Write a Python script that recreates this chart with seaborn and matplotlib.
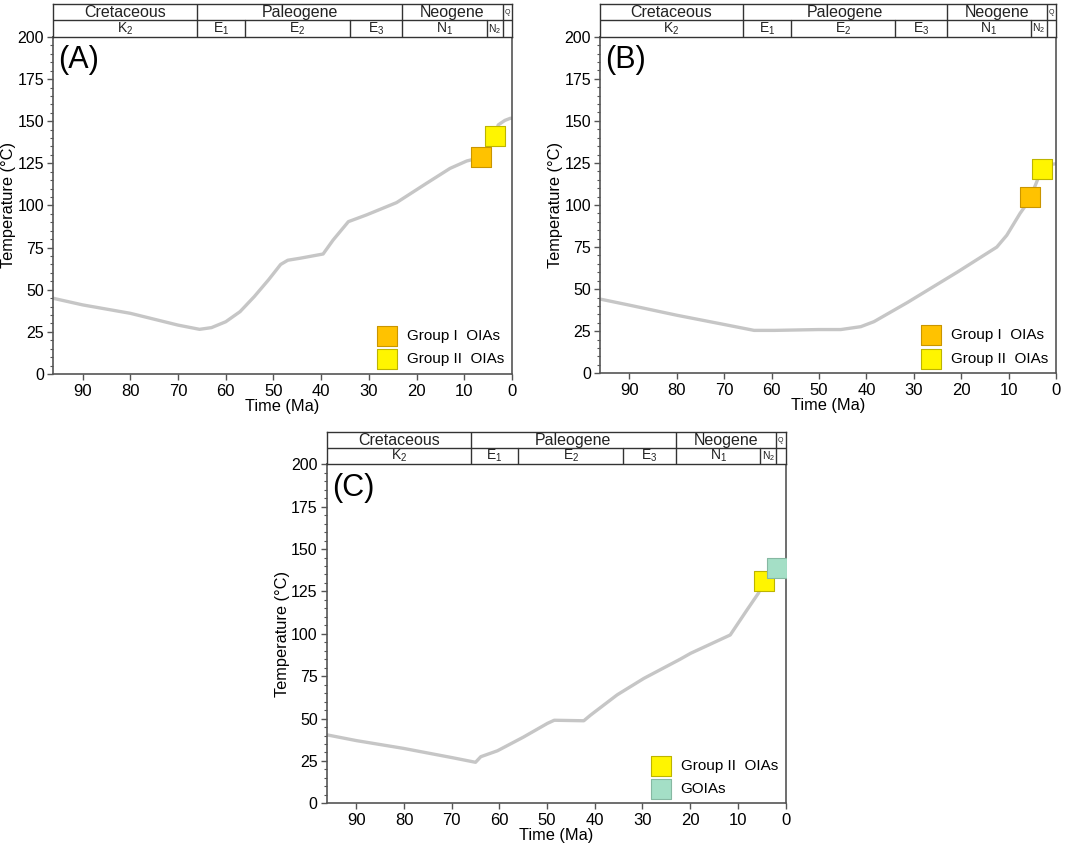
import matplotlib
matplotlib.use('Agg')
import matplotlib.pyplot as plt
import pandas as pd
import seaborn as sns

# Thermal history paths (time in Ma, temperature in deg C)
time_a = [96.3, 90, 80, 70, 65.5, 63, 60, 57, 54, 51, 48.5, 47, 44.4, 39.6, 37.5, 34.3,
          30.5, 24.2, 17.9, 13, 9.5, 6.5, 3.6, 2.9, 1.5, 0.4, 0]
temp_a = [45, 41, 36, 29, 26.5, 27.5, 31, 37, 46, 56, 65, 67.5, 68.7, 71.2, 79.5, 90.4,
          94.4, 101.7, 113.2, 122, 126.4, 128.5, 141, 147.8, 150.5, 151.7, 151.8]

time_b = [96, 90, 80, 70, 63.7, 59.4, 50, 45.4, 41.2, 38.4, 31.4, 20.9, 12.5, 10.4, 7.6,
          6.1, 5.4, 3.0, 1.5, 0]
temp_b = [44, 40.5, 34.5, 29, 25.5, 25.5, 26, 26, 27.7, 30.7, 42, 60, 75, 82, 95,
          101, 104.5, 121.4, 124, 124.5]

time_c = [96, 90, 80.1, 70, 65, 63.9, 60.4, 55, 49.9, 48.5, 42.3, 40.9, 35.3, 29.7, 22.1,
          19.9, 11.6, 8.1, 5.7, 4.5, 1.85, 1.0]
temp_c = [40.3, 37, 32.4, 27, 24.2, 27.5, 31, 39, 47.2, 49, 48.7, 52, 64, 73.7, 85,
          88.5, 99.3, 114, 123.9, 131.4, 138.9, 140]

# Sample groups plotted on each path
groups_a = ['Group I  OIAs', 'Group II  OIAs']
sample_time_a = [6.5, 3.6]
sample_temp_a = [128.5, 141.1]

groups_b = ['Group I  OIAs', 'Group II  OIAs']
sample_time_b = [5.4, 3.0]
sample_temp_b = [104.5, 121.4]

groups_c = ['Group II  OIAs', 'GOIAs']
sample_time_c = [4.5, 1.85]
sample_temp_c = [131.4, 138.9]

# Geological time scale
period_names = ['Cretaceous', 'Paleogene', 'Neogene', 'Q']
period_bounds = [96.2, 66, 23, 2, 0]
epoch_names = ['K$_2$', 'E$_1$', 'E$_2$', 'E$_3$', 'N$_1$', 'N$_2$', '']
epoch_bounds = [96.2, 66, 56, 34, 23, 5.3, 2, 0]

fills = {'Group I  OIAs': '#FFC200', 'Group II  OIAs': '#FFF500', 'GOIAs': '#A4DFC6'}
edges = {'Group I  OIAs': '#C99500', 'Group II  OIAs': '#BDB400', 'GOIAs': '#86B8A2'}

sns.set_style('ticks')
plt.rcParams['font.family'] = ['Liberation Sans', 'DejaVu Sans']
plt.rcParams['mathtext.default'] = 'regular'
plt.rcParams['text.color'] = 'black'
plt.rcParams['axes.labelcolor'] = 'black'
plt.rcParams['xtick.labelcolor'] = 'black'
plt.rcParams['ytick.labelcolor'] = 'black'

XLIM = (96.2, 0)
SPINE = '#555555'


def draw_header(fig, rect, hh):
    hax = fig.add_axes([rect[0], rect[1] + rect[3], rect[2], hh])
    hax.set_xlim(*XLIM)
    hax.set_ylim(0, 2)
    hax.set_xticks([])
    hax.set_yticks([])
    for sp in hax.spines.values():
        sp.set_color('#333333')
        sp.set_linewidth(1.0)
    hax.axhline(1, color='#333333', lw=1.0)
    for b in period_bounds[1:-1]:
        hax.plot([b, b], [1, 2], color='#333333', lw=1.0)
    for b in epoch_bounds[1:-1]:
        hax.plot([b, b], [0, 1], color='#333333', lw=1.0)
    for i, name in enumerate(period_names):
        mid = (period_bounds[i] + period_bounds[i + 1]) / 2
        fs = 5 if name == 'Q' else 11.5
        hax.text(mid, 1.47, name, ha='center', va='center', fontsize=fs, color='#222222')
    for i, name in enumerate(epoch_names):
        mid = (epoch_bounds[i] + epoch_bounds[i + 1]) / 2
        fs = 7.5 if name == 'N$_2$' else 10
        hax.text(mid, 0.5, name, ha='center', va='center', fontsize=fs, color='#222222')


def draw_panel(fig, rect, hh, times, temps, groups, s_time, s_temp, label):
    ax = fig.add_axes(rect)
    path = pd.DataFrame({'time': times, 'temp': temps})
    sns.lineplot(data=path, x='time', y='temp', ax=ax, color='#C6C6C6', lw=2.4,
                 sort=False, estimator=None)
    for g, t, T in zip(groups, s_time, s_temp):
        sns.scatterplot(x=[t], y=[T], ax=ax, marker='s', s=190, color=fills[g],
                        edgecolor=edges[g], linewidth=0.8, label=g, zorder=3)
    ax.set_xlim(*XLIM)
    ax.set_ylim(0, 200)
    ax.set_xticks(range(90, -1, -10))
    ax.set_yticks(range(0, 201, 25))
    ax.set_yticks(range(0, 201, 5), minor=True)
    ax.tick_params(axis='x', labelsize=12, length=4, width=1, color=SPINE, pad=3,
                   direction='out')
    ax.tick_params(axis='y', labelsize=11.5, length=4, width=1, color=SPINE, pad=2.5,
                   direction='out')
    ax.tick_params(axis='y', which='minor', length=2, width=0.8, color=SPINE)
    for sp in ax.spines.values():
        sp.set_color(SPINE)
        sp.set_linewidth(1.2)
    ax.set_xlabel('Time (Ma)', fontsize=11.8, labelpad=0)
    ax.set_ylabel('Temperature (°C)', fontsize=11.8, labelpad=1)
    ax.text(0.012, 0.975, label, transform=ax.transAxes, fontsize=22, ha='left', va='top')
    ax.legend(loc='lower right', frameon=False, fontsize=11, handlelength=1.4,
              handletextpad=0.6, labelspacing=0.6, borderaxespad=0.2, borderpad=0.3)
    draw_header(fig, rect, hh)
    return ax


fig = plt.figure(figsize=(10.65, 8.44), dpi=100)

draw_panel(fig, [0.0498, 0.5569, 0.4310, 0.3993], 0.0391, time_a, temp_a,
           groups_a, sample_time_a, sample_temp_a, '(A)')
draw_panel(fig, [0.5634, 0.5577, 0.4282, 0.3988], 0.0391, time_b, temp_b,
           groups_b, sample_time_b, sample_temp_b, '(B)')
draw_panel(fig, [0.3068, 0.0482, 0.4308, 0.4017], 0.0379, time_c, temp_c,
           groups_c, sample_time_c, sample_temp_c, '(C)')

fig.savefig('out.png', dpi=100)
